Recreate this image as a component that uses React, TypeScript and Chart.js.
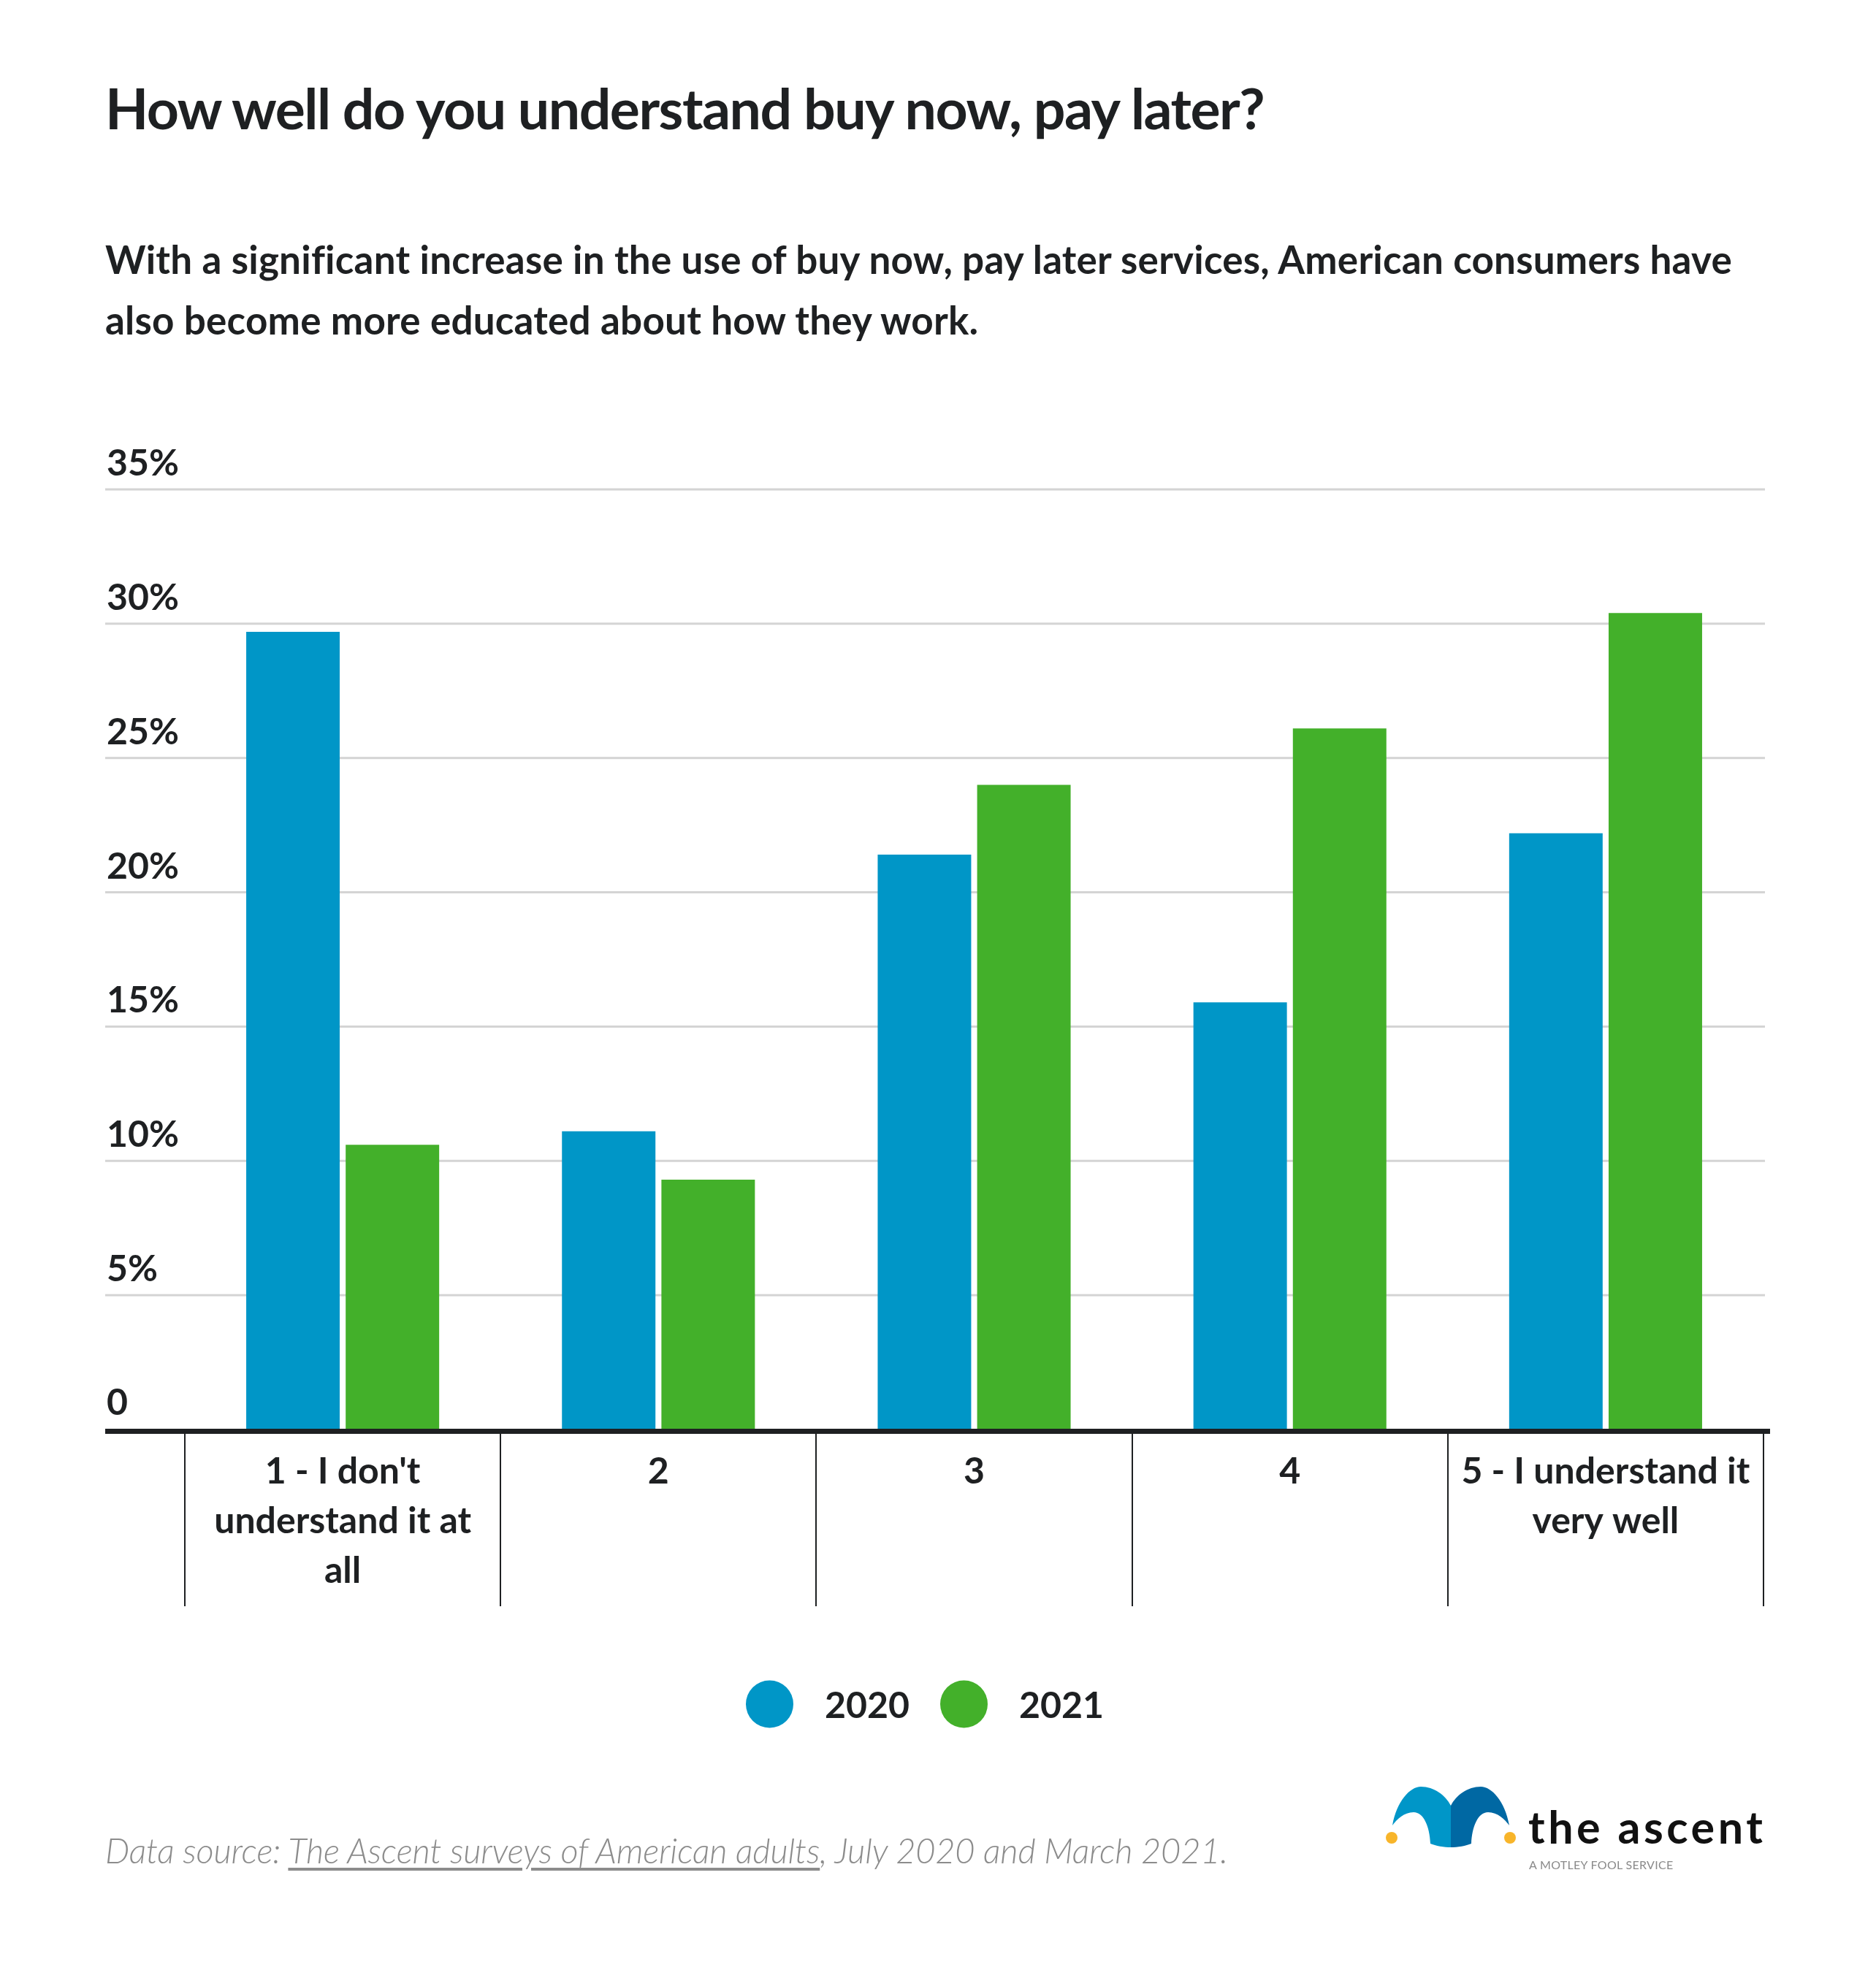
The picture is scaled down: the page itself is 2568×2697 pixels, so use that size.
import React, { useEffect, useRef } from "react";
import { Chart, registerables } from "chart.js";

Chart.register(...registerables);

const categories: string[][] = [
  ["1 - I don't", "understand it at", "all"],
  ["2"],
  ["3"],
  ["4"],
  ["5 - I understand it", "very well"],
];
const seriesNames = ["2020", "2021"];
const values2020 = [29.7, 11.1, 21.4, 15.9, 22.2];
const values2021 = [10.6, 9.3, 24.0, 26.1, 30.4];
const seriesColors = ["#0096c7", "#43b02a"];
const yTickValues = [0, 5, 10, 15, 20, 25, 30, 35];
const yTickLabels = ["0", "5%", "10%", "15%", "20%", "25%", "30%", "35%"];

const TEXT = "#1e2022";
const FONT = "Lato, 'Noto Sans', sans-serif";

const decorPlugin = {
  id: "decor",
  beforeDatasetsDraw(chart: any) {
    const ctx = chart.ctx;
    const y = chart.scales.y;
    ctx.save();
    yTickValues.forEach((v, i) => {
      const py = y.getPixelForValue(v);
      if (v !== 0) {
        ctx.fillStyle = "#d4d4d4";
        ctx.fillRect(144, py - 1.5, 2416 - 144, 3);
      }
      ctx.fillStyle = TEXT;
      ctx.font = `bold 50px ${FONT}`;
      ctx.textAlign = "left";
      ctx.textBaseline = "alphabetic";
      ctx.fillText(yTickLabels[i], 146, py - (v === 0 ? 20 : 19));
    });
    ctx.restore();
  },
  afterDatasetsDraw(chart: any) {
    const ctx = chart.ctx;
    const x = chart.scales.x;
    const y = chart.scales.y;
    const zero = y.getPixelForValue(0);
    ctx.save();
    // axis line
    ctx.fillStyle = TEXT;
    ctx.fillRect(144, zero - 1, 2423 - 144, 7);
    // separators and labels
    const n = categories.length;
    const catW = (x.right - x.left) / n;
    for (let i = 0; i <= n; i++) {
      const bx = i < n ? x.getPixelForValue(i) - catW / 2 : x.getPixelForValue(n - 1) + catW / 2;
      ctx.fillRect(Math.round(bx) - 1, zero + 5, 2, 2199 - (zero + 5));
    }
    ctx.font = `bold 50px ${FONT}`;
    ctx.textAlign = "center";
    ctx.textBaseline = "alphabetic";
    categories.forEach((lines, i) => {
      const cx = x.getPixelForValue(i);
      lines.forEach((ln, k) => {
        ctx.fillText(ln, cx, zero + 74 + k * 68);
      });
    });
    // legend
    const r = 32.5;
    const gapIn = 43;
    const gapOut = 42;
    ctx.font = `bold 50px ${FONT}`;
    const ds = chart.data.datasets;
    const widths = ds.map((d: any) => ctx.measureText(d.label).width);
    let total = 0;
    widths.forEach((w: number, i: number) => {
      total += 2 * r + gapIn + w + (i < widths.length - 1 ? gapOut : 0);
    });
    let lx = 1266 - total / 2;
    const ly = 2333;
    ds.forEach((d: any, i: number) => {
      ctx.fillStyle = d.backgroundColor;
      ctx.beginPath();
      ctx.arc(lx + r, ly, r, 0, Math.PI * 2);
      ctx.fill();
      ctx.fillStyle = TEXT;
      ctx.textAlign = "left";
      ctx.fillText(d.label, lx + 2 * r + gapIn, ly + 19);
      lx += 2 * r + gapIn + widths[i] + gapOut;
    });
    ctx.restore();
  },
};

function Logo() {
  return (
    <svg
      width={180}
      height={86}
      viewBox="0 0 180 86"
      style={{ position: "absolute", left: 1897, top: 2446 }}
    >
      <path
        d="M 9 53 C 15 20, 33 0, 48 0 C 66 0, 82 12, 89 26 L 89 83 C 80 83, 68 81, 61 78 C 60 55, 52 35, 38 35 C 25 35, 15 45, 9 53 Z"
        fill="#0096c8"
      />
      <path
        d="M 169 53 C 163 20, 145 0, 130 0 C 112 0, 96 12, 89 26 L 89 83 C 98 83, 110 81, 117 78 C 118 55, 126 35, 140 35 C 153 35, 163 45, 169 53 Z"
        fill="#0068a3"
      />
      <circle cx={8} cy={70} r={8} fill="#f8b52a" />
      <circle cx={170} cy={70} r={8} fill="#f8b52a" />
    </svg>
  );
}

export default function App() {
  const canvasRef = useRef<HTMLCanvasElement | null>(null);

  useEffect(() => {
    let chart: Chart | null = null;
    let cancelled = false;
    const make = () => {
      if (cancelled || !canvasRef.current) return;
      chart = new Chart(canvasRef.current, {
        type: "bar",
        data: {
          labels: categories as any,
          datasets: [
            {
              label: seriesNames[0],
              data: values2020,
              backgroundColor: seriesColors[0],
              categoryPercentage: 0.63,
              barPercentage: 0.94,
            },
            {
              label: seriesNames[1],
              data: values2021,
              backgroundColor: seriesColors[1],
              categoryPercentage: 0.63,
              barPercentage: 0.94,
            },
          ],
        },
        options: {
          responsive: false,
          animation: false,
          devicePixelRatio: 1,
          layout: { padding: { left: 253, right: 154, top: 670, bottom: 740 } },
          scales: {
            x: { display: false },
            y: { display: false, min: 0, max: 35 },
          },
          plugins: {
            legend: { display: false },
            tooltip: { enabled: false },
          },
        },
        plugins: [decorPlugin],
      });
    };
    const fonts = (document as any).fonts;
    if (fonts && fonts.load) {
      Promise.all([
        fonts.load(`bold 50px Lato`),
        fonts.load(`300 italic 47px Lato`),
      ]).then(make, make);
    } else {
      make();
    }
    return () => {
      cancelled = true;
      if (chart) chart.destroy();
    };
  }, []);

  return (
    <div
      style={{
        position: "absolute",
        left: 0,
        top: 0,
        width: 2568,
        height: 2697,
        background: "#ffffff",
        fontFamily: FONT,
        color: TEXT,
        overflow: "hidden",
      }}
    >
      <canvas
        ref={canvasRef}
        width={2568}
        height={2697}
        style={{ position: "absolute", left: 0, top: 0, width: 2568, height: 2697 }}
      />
      <div
        style={{
          position: "absolute",
          left: 144,
          top: 109,
          fontSize: 77,
          lineHeight: "77px",
          fontWeight: 700,
          letterSpacing: -1.5,
          whiteSpace: "nowrap",
        }}
      >
        How well do you understand buy now, pay later?
      </div>
      <div
        style={{
          position: "absolute",
          left: 144,
          top: 313,
          fontSize: 53,
          lineHeight: "83px",
          fontWeight: 700,
          letterSpacing: 0.22,
          whiteSpace: "nowrap",
        }}
      >
        With a significant increase in the use of buy now, pay later services, American consumers have
        <br />
        also become more educated about how they work.
      </div>
      <div
        style={{
          position: "absolute",
          left: 144,
          top: 2510,
          fontSize: 47,
          lineHeight: "47px",
          fontWeight: 300,
          fontStyle: "italic",
          letterSpacing: -0.18,
          color: "#8c8c8c",
          whiteSpace: "nowrap",
        }}
      >
        Data source:{" "}
        <span style={{ textDecoration: "underline", textUnderlineOffset: 6 }}>
          The Ascent surveys of American adults
        </span>
        , July 2020 and March 2021.
      </div>
      <Logo />
      <div
        style={{
          position: "absolute",
          left: 2092,
          top: 2470,
          fontSize: 61,
          lineHeight: "61px",
          fontWeight: 700,
          letterSpacing: 4.5,
          color: "#111111",
          whiteSpace: "nowrap",
        }}
      >
        the ascent
      </div>
      <div
        style={{
          position: "absolute",
          left: 2093,
          top: 2545,
          fontSize: 16,
          lineHeight: "16px",
          letterSpacing: 0.3,
          color: "#8a8a8a",
          whiteSpace: "nowrap",
        }}
      >
        A MOTLEY FOOL SERVICE
      </div>
    </div>
  );
}
